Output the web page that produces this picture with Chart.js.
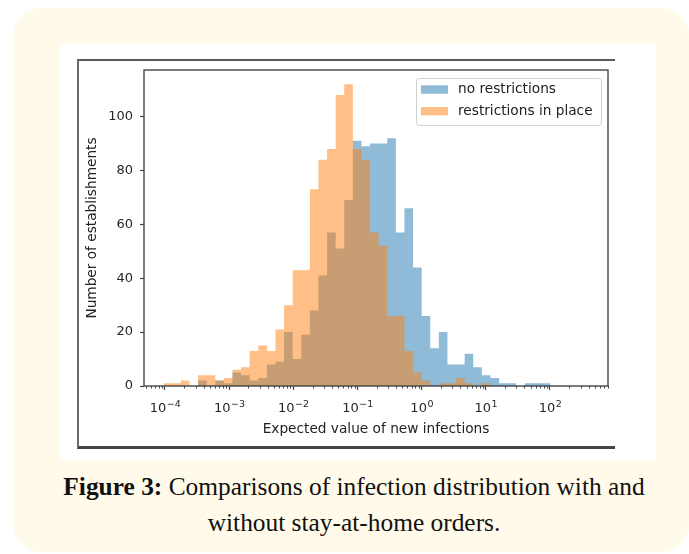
<!DOCTYPE html>
<html>
<head>
<meta charset="utf-8">
<title>Figure 3</title>
<script src="https://cdn.jsdelivr.net/npm/chart.js@4.4.0/dist/chart.umd.min.js"></script>
<style>
    body {
        margin: 0;
        width: 689px;
        height: 554px;
        background: #fff;
        position: relative;
        overflow: hidden;
    }
    .panel {
        position: absolute;
        left: 13px;
        top: 8px;
        width: 676px;
        height: 544px;
        background: #fffae9;
        border-radius: 28px;
    }
    .figure {
        position: absolute;
        left: 60px;
        top: 44px;
        width: 596px;
        height: 416px;
        background: #fff;
    }
    .frame {
        position: absolute;
        box-sizing: border-box;
        left: 77px;
        top: 59px;
        width: 538px;
        height: 390px;
        border-top: 2px solid #5a5a5a;
        border-left: 2px solid #6a6a6a;
        border-bottom: 3px solid #444;
    }
    .chart-box {
        position: absolute;
        left: 80px;
        top: 62px;
        width: 530px;
        height: 380px;
    }
    .caption {
        position: absolute;
        left: 60px;
        top: 468px;
        width: 588px;
        text-align: center;
        font-family: 'Liberation Serif', serif;
        font-size: 25.4px;
        line-height: 36px;
        color: #111;
        white-space: nowrap;
    }
</style>
</head>
<body>
    <div class="panel"></div>
    <div class="figure"></div>
    <div class="frame"></div>
    <div class="chart-box"><canvas id="hist"></canvas></div>
    <div class="caption"><b>Figure 3:</b> Comparisons of infection distribution with and<br>without stay-at-home orders.</div>

<script>
    // log10 of the bin edges
    const binEdgeExps = [-4.020, -3.886, -3.752, -3.618, -3.484, -3.350, -3.216, -3.082, -2.948, -2.814,
        -2.680, -2.546, -2.412, -2.278, -2.144, -2.010, -1.876, -1.742, -1.608, -1.474,
        -1.340, -1.206, -1.072, -0.938, -0.804, -0.670, -0.536, -0.402, -0.268, -0.134,
        0.000, 0.134, 0.268, 0.402, 0.536, 0.670, 0.804, 0.938, 1.072, 1.206,
        1.340, 1.474, 1.608, 1.742, 1.876, 2.010];

    const noRestrictions = [0, 0, 0, 0, 2, 0, 2, 1, 5, 4,
        2, 3, 8, 9, 20, 10, 19, 28, 41, 57,
        51, 69, 91, 89, 90, 90, 92, 57, 66, 44,
        26, 14, 20, 8, 8, 12, 7, 4, 3, 1,
        1, 0, 1, 1, 1];

    const restrictionsInPlace = [1, 1, 2, 0, 4, 4, 2, 3, 6, 7,
        13, 15, 13, 21, 30, 43, 43, 73, 84, 88,
        108, 112, 88, 84, 57, 52, 26, 26, 13, 5,
        2, 0, 1, 1, 3, 1, 0, 1, 0, 0,
        0, 0, 0, 0, 0];

    const seriesNames = ['no restrictions', 'restrictions in place'];
    const xTickExps = [-4, -3, -2, -1, 0, 1, 2];
    const xTickBase = '10';
    const yTicks = [0, 20, 40, 60, 80, 100];

    const blue = 'rgba(31, 119, 180, 0.5)';
    const orange = 'rgba(255, 127, 14, 0.5)';
    const font = 'DejaVu Sans';

    // histogram outline: one point per left edge, closed at the last right edge
    function toSteps(counts) {
        const pts = counts.map((c, i) => ({ x: Math.pow(10, binEdgeExps[i]), y: c }));
        pts.push({ x: Math.pow(10, binEdgeExps[counts.length]), y: 0 });
        return pts;
    }

    const axesExtras = {
        id: 'axesExtras',
        afterDraw(chart) {
            const { ctx, chartArea: a, scales } = chart;
            ctx.save();

            // minor ticks on the log axis
            ctx.strokeStyle = '#444';
            ctx.lineWidth = 1;
            for (let n = -5; n <= 2; n++) {
                for (let m = 2; m <= 9; m++) {
                    const px = scales.x.getPixelForValue(m * Math.pow(10, n));
                    if (px < a.left || px > a.right) continue;
                    ctx.beginPath();
                    ctx.moveTo(Math.round(px) + 0.5, a.bottom);
                    ctx.lineTo(Math.round(px) + 0.5, a.bottom + 2.5);
                    ctx.stroke();
                }
            }

            // axes box
            ctx.lineWidth = 1.4;
            ctx.strokeRect(a.left, a.top, a.right - a.left, a.bottom - a.top);

            // decade labels, 10 with a raised exponent
            ctx.fillStyle = '#262626';
            ctx.textBaseline = 'alphabetic';
            ctx.textAlign = 'left';
            xTickExps.forEach(e => {
                const px = scales.x.getPixelForValue(Math.pow(10, e));
                const sup = (e < 0 ? '\u2212' : '') + Math.abs(e);
                ctx.font = '13px "' + font + '"';
                const wb = ctx.measureText(xTickBase).width;
                ctx.font = '9.5px "' + font + '"';
                const ws = ctx.measureText(sup).width;
                const x0 = px - (wb + ws) / 2;
                const base = a.bottom + 26;
                ctx.font = '13px "' + font + '"';
                ctx.fillText(xTickBase, x0, base);
                ctx.font = '9.5px "' + font + '"';
                ctx.fillText(sup, x0 + wb + 0.5, base - 5.5);
            });

            // legend, upper right
            const w = 185, h = 47;
            const lx = a.right - 7 - w, ly = a.top + 8;
            ctx.beginPath();
            ctx.roundRect(lx + 0.5, ly + 0.5, w, h, 3);
            ctx.fillStyle = 'rgba(255,255,255,0.8)';
            ctx.fill();
            ctx.strokeStyle = '#d0d0d0';
            ctx.lineWidth = 1;
            ctx.stroke();

            const colors = [blue, orange];
            ctx.font = '13.7px "' + font + '"';
            ctx.textBaseline = 'middle';
            seriesNames.forEach((name, i) => {
                const cy = ly + 11.5 + i * 21.7;
                ctx.fillStyle = colors[i];
                ctx.fillRect(lx + 5, cy - 4.2, 27, 8.4);
                ctx.fillStyle = '#222';
                ctx.fillText(name, lx + 42, cy);
            });
            ctx.restore();
        }
    };

    new Chart(document.getElementById('hist'), {
        type: 'line',
        data: {
            datasets: [{
                label: seriesNames[0],
                data: toSteps(noRestrictions),
                stepped: true,
                fill: 'origin',
                backgroundColor: blue,
                borderColor: 'transparent',
                borderWidth: 0,
                pointRadius: 0,
                order: 2
            }, {
                label: seriesNames[1],
                data: toSteps(restrictionsInPlace),
                stepped: true,
                fill: 'origin',
                backgroundColor: orange,
                borderColor: 'transparent',
                borderWidth: 0,
                pointRadius: 0,
                order: 1
            }]
        },
        options: {
            responsive: true,
            maintainAspectRatio: false,
            animation: false,
            layout: { padding: { left: 0, top: 8, right: 2, bottom: 0 } },
            scales: {
                x: {
                    type: 'logarithmic',
                    bounds: 'data',
                    min: Math.pow(10, -4.327),
                    max: Math.pow(10, 2.904),
                    afterBuildTicks: (scale) => {
                        scale.ticks = xTickExps.map(e => ({ value: Math.pow(10, e) }));
                    },
                    afterFit: (scale) => {
                        scale.height = 56;
                        scale.paddingLeft = 0;
                        scale.paddingRight = 0;
                    },
                    border: { display: false },
                    grid: { drawOnChartArea: false, drawTicks: true, tickLength: 4, tickColor: '#444', tickWidth: 1.2 },
                    ticks: { display: false, autoSkip: false },
                    title: {
                        display: true,
                        text: 'Expected value of new infections',
                        color: '#222',
                        font: { family: font, size: 13.7 }
                    }
                },
                y: {
                    type: 'linear',
                    bounds: 'data',
                    min: 0,
                    max: 117.3,
                    afterBuildTicks: (scale) => {
                        scale.ticks = yTicks.map(v => ({ value: v }));
                    },
                    afterFit: (scale) => {
                        scale.width = 64;
                        scale.paddingTop = 0;
                        scale.paddingBottom = 0;
                    },
                    border: { display: false },
                    grid: { drawOnChartArea: false, drawTicks: true, tickLength: 4, tickColor: '#444', tickWidth: 1.2 },
                    ticks: {
                        padding: 7,
                        color: '#262626',
                        font: { family: font, size: 13 }
                    },
                    title: {
                        display: true,
                        text: 'Number of establishments',
                        color: '#222',
                        font: { family: font, size: 13.7 }
                    }
                }
            },
            plugins: {
                legend: { display: false },
                tooltip: { enabled: false }
            }
        },
        plugins: [axesExtras]
    });
</script>
</body>
</html>
